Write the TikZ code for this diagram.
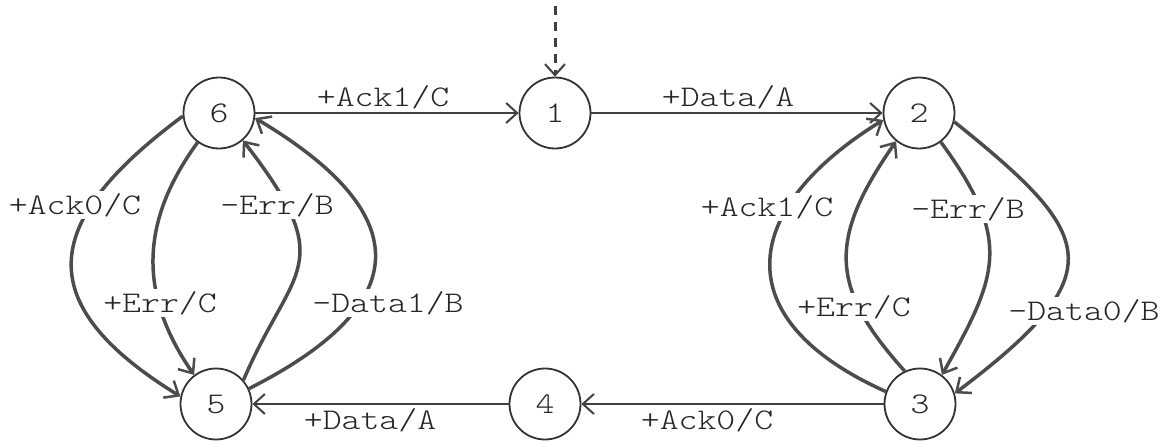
\documentclass[tikz,border=0pt]{standalone}
\usepackage{fontspec}
\setmonofont{Latin Modern Mono Light}[FakeStretch=1.2]
\usetikzlibrary{arrows.meta}
\begin{document}
\begin{tikzpicture}[x=1pt,y=-1pt,
  state/.style={circle,draw=black!80,line width=1.8pt,minimum size=71pt,inner sep=0pt,
    font=\ttfamily\fontsize{30}{30}\selectfont,text=black!85},
  lbl/.style={anchor=base,fill=white,inner sep=2pt,
    font=\ttfamily\fontsize{30}{30}\selectfont,text=black!85},
  plainlbl/.style={anchor=base,inner sep=0pt,
    font=\ttfamily\fontsize{30}{30}\selectfont,text=black!85},
  link/.style={draw=black!75,line width=2pt,
    -{Straight Barb[length=11pt,width=20pt,line width=2pt]}},
  arc/.style={draw=black!70,line width=3.5pt,
    -{Straight Barb[length=12pt,width=20pt,line width=2.5pt]}},
]
\useasboundingbox (0,0) rectangle (1167,444);

% states
\node[state] (n6) at (219,113) {6};
\node[state] (n1) at (555,113) {1};
\node[state] (n2) at (919,113) {2};
\node[state] (n5) at (216,404) {5};
\node[state] (n4) at (545,404) {4};
\node[state] (n3) at (920,404) {3};

% initial transition
\coordinate (entry) at (555,6);
\draw[link,line width=3pt,dash pattern=on 9pt off 7pt] (entry) -- (n1);

% straight transitions
\draw[link] (n6) -- (n1);
\draw[link] (n1) -- (n2);
\draw[link] (n3) -- (n4);
\draw[link] (n4) -- (n5);

% left loop between 6 and 5
\draw[arc] (n6.185) .. controls (43,220) and (27,302) .. (n5.168);
\draw[arc] (n6.234) .. controls (138,224) and (140,297) .. (n5.127);
\draw[arc] (n5.41) .. controls (292,266) and (341,267) .. (n6.311);
\draw[arc] (n5.25) .. controls (434,295) and (398,203) .. (n6.352);

% right loop between 2 and 3
\draw[arc] (n2.346) .. controls (1095,235) and (1116,272) .. (n3.17);
\draw[arc] (n2.307) .. controls (1013,241) and (998,275) .. (n3.53);
\draw[arc] (n3.160) .. controls (722,318) and (742,207) .. (n2.191);
\draw[arc] (n3.115) .. controls (829,287) and (828,239) .. (n2.231);

% labels on straight transitions
\node[plainlbl] (l61) at (383,106) {+Ack1/C};
\node[plainlbl] (l12) at (728,106) {+Data/A};
\node[plainlbl] (l34) at (707,429) {+Ack0/C};
\node[plainlbl] (l45) at (370,429) {+Data/A};

% labels on curved transitions
\node[lbl] (la) at (75,214) {+Ack0/C};
\node[lbl] (lb) at (160,312) {+Err/C};
\node[lbl] (lc) at (277,214) {-Err/B};
\node[lbl] (ld) at (388,312) {-Data1/B};
\node[lbl] (le) at (1084,320) {-Data0/B};
\node[lbl] (lf) at (968,218) {-Err/B};
\node[lbl] (lg) at (767,216) {+Ack1/C};
\node[lbl] (lh) at (854,316) {+Err/C};
\end{tikzpicture}
\end{document}
